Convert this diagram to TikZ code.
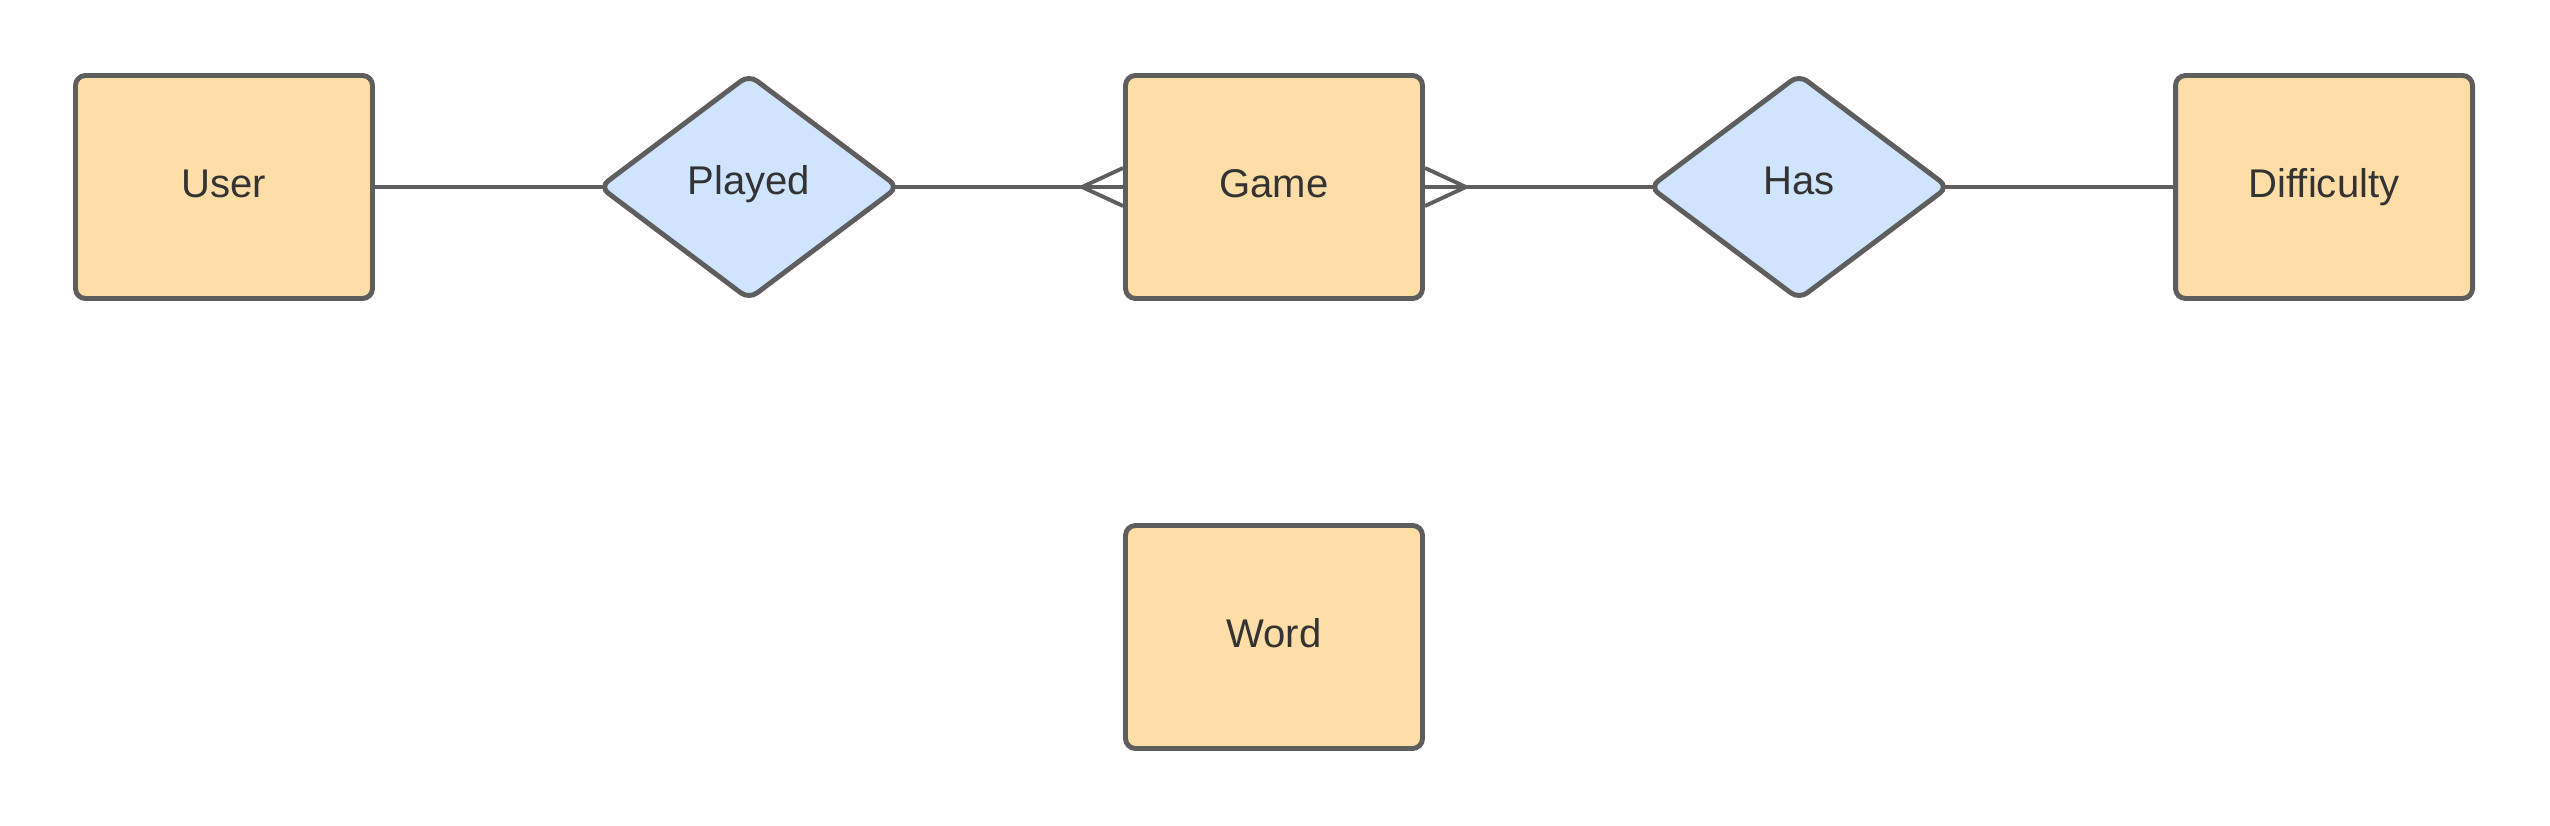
\documentclass[tikz,border=0pt]{standalone}
\usepackage{fontspec}
\setmainfont{Liberation Sans}
\usetikzlibrary{shapes.geometric,positioning}
\definecolor{boxfill}{HTML}{FFDDA6}
\definecolor{relfill}{HTML}{CFE4FF}
\definecolor{edgegray}{HTML}{5E5E5E}
\definecolor{ink}{HTML}{333333}
\tikzset
{
    entity/.style   = {rectangle, rounded corners=0.1cm, draw=edgegray, fill=boxfill, line width=1.4pt, minimum width=2.97cm, minimum height=2.23cm, align=center, text=ink, text height=0.285cm, text depth=0.075cm, font=\fontsize{11.4}{13.5}\selectfont},
    relation/.style = {diamond, rounded corners=0.1cm, draw=edgegray, fill=relfill, line width=1.4pt, minimum width=2.98cm, minimum height=2.24cm, inner sep=0pt, outer sep=0pt, align=center, text=ink, text height=0.285cm, text depth=0.135cm, font=\fontsize{11.4}{13.5}\selectfont},
    link/.style     = {draw=edgegray, line width=1.1pt}
}

\begin{document}
\begin{tikzpicture}
\useasboundingbox (0,0) rectangle (25.5,8.25);
\newcommand\xShift{5.25}
\newcommand\yShift{4.5}
\node(user) [entity] at (2.24, 6.38) {User};
\node(played) [relation] at ([shift=({\xShift,0})]user) {Played};
\node(game) [entity] at ([shift=({\xShift,0})]played) {Game};
\node(has) [relation] at ([shift=({\xShift,0})]game) {Has};
\node(difficulty) [entity] at ([shift=({\xShift,0})]has) {Difficulty};
\node(word) [entity] at ([shift=({0,-\yShift})]game) {Word};
\draw[link] (user) -- ([xshift=0.06cm]played.west);
\draw[link] ([xshift=-0.06cm]played.east) -- (game);
\draw[link] (game) -- ([xshift=0.06cm]has.west);
\draw[link] ([xshift=-0.06cm]has.east) -- (difficulty);
% crow's feet on game
\draw[link] ([yshift=0.19cm]game.west) -- ([xshift=-0.41cm]game.west) -- ([yshift=-0.19cm]game.west);
\draw[link] ([yshift=0.19cm]game.east) -- ([xshift=0.41cm]game.east) -- ([yshift=-0.19cm]game.east);
\end{tikzpicture}
\end{document}
